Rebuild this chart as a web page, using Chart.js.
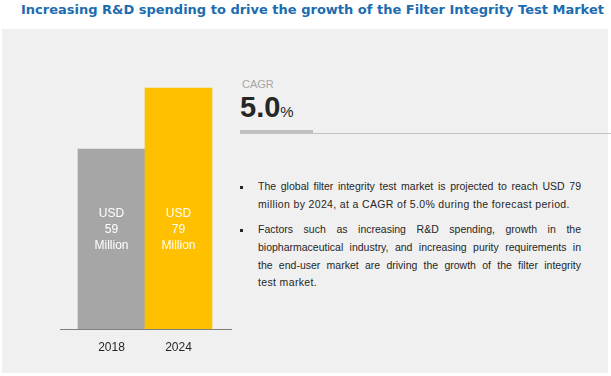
<!DOCTYPE html>
<html>
<head>
<meta charset="utf-8">
<script src="https://cdn.jsdelivr.net/npm/chart.js@4.4.0/dist/chart.umd.min.js"></script>
<style>
  html, body { margin: 0; padding: 0; background: #fff; }
  body { width: 611px; height: 376px; position: relative; overflow: hidden; font-family: "Liberation Sans", Arial, sans-serif; }
  #title { position: absolute; left: 21px; top: 2px; font: bold 13px "DejaVu Sans", Verdana, sans-serif; color: #1c6cb0; white-space: nowrap; }
  #panel { position: absolute; left: 2px; top: 29px; width: 606px; height: 344px; background: #f0f0f0; }
  #chartBox { position: absolute; left: 60px; top: 80px; width: 172px; height: 279px; }
  #cagrLabel { position: absolute; left: 242px; top: 78px; font-size: 11px; color: #a6a6a6; }
  #cagrValue { position: absolute; left: 240px; top: 91px; font-size: 29px; font-weight: bold; color: #262626; white-space: nowrap; }
  #cagrValue span { font-size: 15px; font-weight: normal; }
  #thick { position: absolute; left: 240px; top: 130px; width: 73px; height: 4px; background: #bfbfbf; }
  #thin { position: absolute; left: 240px; top: 133px; width: 371px; height: 1px; background: #c4c4c4; }
  .bl { position: absolute; left: 258px; width: 323px; font-size: 10.5px; color: #262626; white-space: nowrap; letter-spacing: 0.35px; }
  .j { text-align: justify; text-align-last: justify; white-space: normal; letter-spacing: 0; }
  .dot { position: absolute; left: 240px; width: 3px; height: 3px; background: #262626; }
</style>
</head>
<body>
<div id="title">Increasing R&amp;D spending to drive the growth of the Filter Integrity Test Market</div>
<div id="panel"></div>
<div id="chartBox"><canvas id="chart"></canvas></div>

<div id="cagrLabel">CAGR</div>
<div id="cagrValue">5.0<span>%</span></div>
<div id="thick"></div>
<div id="thin"></div>

<div class="dot" style="top:186px"></div>
<div class="bl j" style="top:180px">The global filter integrity test market is projected to reach USD 79</div>
<div class="bl" style="top:198px">million by 2024, at a CAGR of 5.0% during the forecast period.</div>
<div class="dot" style="top:229px"></div>
<div class="bl j" style="top:223px">Factors such as increasing R&amp;D spending, growth in the</div>
<div class="bl j" style="top:241px">biopharmaceutical industry, and increasing purity requirements in</div>
<div class="bl j" style="top:259px">the end-user market are driving the growth of the filter integrity</div>
<div class="bl" style="top:276px">test market.</div>

<script>
// valores do grafico
const years = ["2018", "2024"];
const marketSize = [59, 79];
const barColors = ["#a6a6a6", "#ffc000"];

/**
 * Rotulos dentro das barras: USD / valor / Million
 */
const barLabels = {
  id: "barLabels",
  afterDatasetsDraw(chart) {
    const ctx = chart.ctx;
    const meta = chart.getDatasetMeta(0);
    const yMid = chart.chartArea.bottom - 99;
    ctx.save();
    ctx.fillStyle = "#ffffff";
    ctx.font = '12px "Liberation Sans", Arial, sans-serif';
    ctx.textAlign = "center";
    ctx.textBaseline = "middle";
    meta.data.forEach((bar, i) => {
      ctx.fillText("USD", bar.x, yMid - 16);
      ctx.fillText(String(marketSize[i]), bar.x, yMid);
      ctx.fillText("Million", bar.x, yMid + 16);
    });
    ctx.restore();
  }
};

function initChart() {
  const ctx = document.getElementById("chart").getContext("2d");
  new Chart(ctx, {
    type: "bar",
    data: {
      datasets: [{
        data: marketSize.map((v, i) => ({ x: i, y: v })),
        backgroundColor: barColors,
        borderWidth: 0,
        barPercentage: 1,
        categoryPercentage: 1,
      }],
    },
    options: {
      responsive: true,
      maintainAspectRatio: false,
      animation: false,
      layout: { padding: { top: 5, left: 0, right: 0, bottom: 0 } },
      plugins: { legend: { display: false }, tooltip: { enabled: false } },
      scales: {
        x: {
          type: "linear",
          offset: false,
          min: -0.769,
          max: 1.799,
          afterBuildTicks: (s) => { s.ticks = years.map((_, i) => ({ value: i })); },
          afterFit: (s) => { s.height = 30; },
          grid: { display: false, drawTicks: false, offset: false },
          border: { display: true, color: "#7f7f7f", width: 1 },
          ticks: {
            padding: 11,
            color: "#262626",
            font: { family: '"Liberation Sans", Arial, sans-serif', size: 12 },
            callback: (v) => years[v] ?? "",
          },
        },
        y: { display: false, min: 0, max: 80 },
      },
    },
    plugins: [barLabels],
  });
}

window.onload = () => {
  initChart();
};
</script>
</body>
</html>
